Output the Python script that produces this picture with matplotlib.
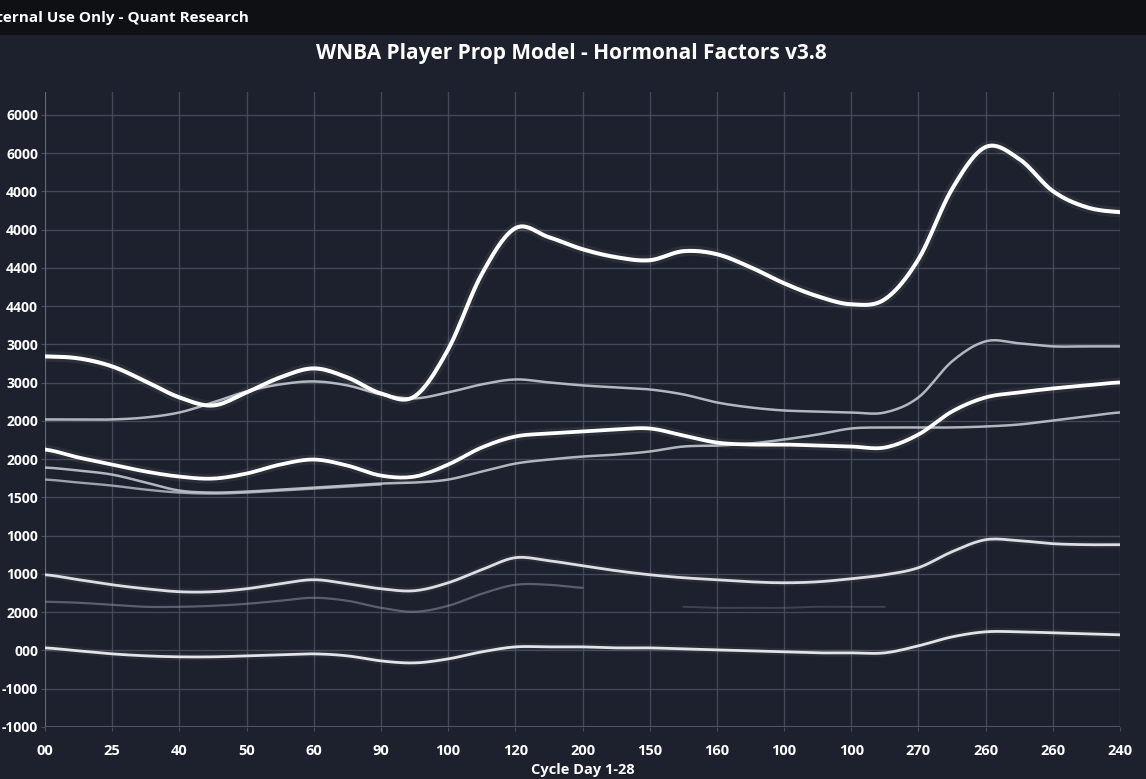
import numpy as np
import matplotlib
matplotlib.use("Agg")
import matplotlib.pyplot as plt
from matplotlib.patches import Rectangle

# ---------------- data ----------------
x_labels = ['00', '25', '40', '50', '60', '90', '100', '120', '200', '150',
            '160', '100', '100', '270', '260', '260', '240']
y_ticks = [-1000, -500, 0, 500, 1000, 1500, 2000, 2500, 3000, 3500, 4000,
           4500, 5000, 5500, 6000, 6500, 7000]
y_labels = ['-1000', '-1000', '000', '2000', '1000', '1000', '1500', '2000',
            '2000', '3000', '3000', '4400', '4400', '4000', '4000', '6000', '6000']

# samples at every half cycle step (0, 0.5, ..., 16)
x_pos = np.arange(33) * 0.5

series_top = [3844, 3818, 3713, 3517, 3308, 3203, 3373, 3569, 3687, 3569, 3360,
              3321, 3936, 4918, 5520, 5402, 5245, 5141, 5101, 5219, 5180, 5010,
              4800, 4630, 4525, 4591, 5114, 6031, 6581, 6424, 6005, 5795, 5730]
series_upper_grey = [3020, 3020, 3020, 3046, 3111, 3242, 3386, 3478, 3517, 3465,
                     3347, 3295, 3373, 3478, 3543, 3504, 3465, 3439, 3412, 3347,
                     3242, 3177, 3137, 3124, 3111, 3111, 3308, 3779, 4041, 4015,
                     3975, 3975, 3975]
series_mid_white = [2627, 2522, 2430, 2339, 2273, 2247, 2313, 2430, 2496, 2417,
                    2286, 2273, 2430, 2653, 2797, 2836, 2862, 2889, 2902, 2810,
                    2718, 2692, 2692, 2679, 2666, 2653, 2823, 3124, 3308, 3373,
                    3425, 3465, 3504]
series_mid_grey = [2391, 2352, 2299, 2195, 2090, 2064, 2077, 2103, 2129, 2155,
                   2182, 2195, 2234, 2339, 2443, 2496, 2535, 2561, 2601, 2666,
                   2679, 2705, 2758, 2823, 2902, 2915, 2915, 2915, 2928, 2954,
                   3006, 3059, 3111]
series_mid_grey2 = [2234, 2195, 2155, 2103, 2064, 2051, 2064, 2090, 2116, 2142,
                    2169] + [np.nan] * 22
series_low_light = [990, 925, 859, 807, 768, 768, 807, 872, 925, 872, 807, 781,
                    885, 1056, 1213, 1173, 1108, 1043, 990, 951, 925, 898, 885,
                    898, 938, 990, 1082, 1291, 1448, 1435, 1396, 1383, 1383]
series_faint_a = [637, 624, 597, 571, 571, 584, 610, 650, 689, 650, 558, 506,
                  584, 741, 859, 859, 820] + [np.nan] * 16
series_faint_b = [np.nan] * 19 + [571, 558, 558, 558, 571, 571, 571] + [np.nan] * 7
series_bottom = [34, -5, -44, -70, -83, -83, -70, -57, -44, -70, -136, -162,
                 -110, -18, 47, 47, 47, 34, 34, 21, 8, -5, -18, -31, -31, -31,
                 61, 178, 244, 244, 231, 218, 205]

# ---------------- style ----------------
BG = '#1c212d'
BAR = '#0e1014'
GRID = '#474d5d'
FONT = ['Open Sans', 'DejaVu Sans']


def catmull(x, y, n=12):
    x = np.asarray(x, float)
    y = np.asarray(y, float)
    xs, ys = [], []
    for i in range(len(x) - 1):
        p0 = y[i - 1] if i > 0 else y[i]
        p1, p2 = y[i], y[i + 1]
        p3 = y[i + 2] if i + 2 < len(y) else y[i + 1]
        t = np.linspace(0, 1, n, endpoint=False)
        yy = 0.5 * ((2 * p1) + (-p0 + p2) * t + (2 * p0 - 5 * p1 + 4 * p2 - p3) * t ** 2
                    + (-p0 + 3 * p1 - 3 * p2 + p3) * t ** 3)
        xs.append(x[i] + (x[i + 1] - x[i]) * t)
        ys.append(yy)
    xs.append([x[-1]])
    ys.append([y[-1]])
    return np.concatenate(xs), np.concatenate(ys)


def draw(ax, y, color, lw, alpha=1.0, glow=False):
    y = np.asarray(y, float)
    ok = ~np.isnan(y)
    idx = np.where(ok)[0]
    if len(idx) == 0:
        return
    runs = np.split(idx, np.where(np.diff(idx) != 1)[0] + 1)
    for r in runs:
        if len(r) < 2:
            continue
        sx, sy = catmull(x_pos[r], y[r])
        if glow:
            ax.plot(sx, sy, color=color, lw=lw * 2.6, alpha=0.06 * alpha,
                    solid_capstyle='round', zorder=3)
        ax.plot(sx, sy, color=color, lw=lw, alpha=alpha,
                solid_capstyle='round', zorder=4)


fig = plt.figure(figsize=(11.46, 7.79), dpi=100, facecolor=BG)
W, H = 1146, 779

# top bar
fig.patches.append(Rectangle((0, 1 - 35 / H), 1, 35 / H, transform=fig.transFigure,
                             facecolor=BAR, edgecolor='none', zorder=0))
fig.text(-19 / W, 1 - 18 / H, 'Internal Use Only - Quant Research', color='white',
         fontsize=11, fontweight='bold', family=FONT, va='center', ha='left')
fig.text(571 / W, 1 - 53 / H, 'WNBA Player Prop Model - Hormonal Factors v3.8',
         color='white', fontsize=15, fontweight='bold', family=FONT,
         va='center', ha='center')

ax = fig.add_axes([45 / W, 1 - 727 / H, (1120 - 45) / W, (727 - 92) / H])
ax.set_facecolor(BG)
ax.set_xlim(0, 16)
ax.set_ylim(-1000, 7300)

ax.set_xticks(range(17))
ax.set_xticklabels(x_labels)
ax.set_yticks(y_ticks)
ax.set_yticklabels(y_labels)
for lab in ax.get_xticklabels() + ax.get_yticklabels():
    lab.set_family(FONT)
    lab.set_fontweight('bold')
    lab.set_fontsize(10.5)
    lab.set_color('white')
for lab in ax.get_yticklabels():
    lab.set_fontsize(10)
ax.tick_params(axis='both', length=3, color=GRID)
ax.tick_params(axis='y', pad=2)
ax.tick_params(axis='x', pad=9)

ax.grid(True, color=GRID, lw=1.0, alpha=0.9, zorder=1)
for s in ax.spines.values():
    s.set_visible(False)
ax.axvline(0, color='#6a7080', lw=1.2, zorder=2)
ax.axhline(-1000, color='#5a6070', lw=1.2, zorder=2)

ax.set_xlabel('Cycle Day 1-28', color='white', fontsize=10.5, fontweight='bold',
              family=FONT, labelpad=4)

draw(ax, series_faint_a, '#8c93a3', 1.6, alpha=0.55)
draw(ax, series_faint_b, '#8c93a3', 1.4, alpha=0.3)
draw(ax, series_mid_grey2, '#b4b8c2', 1.7, alpha=0.85)
draw(ax, series_mid_grey, '#c2c6ce', 1.8, alpha=0.9)
draw(ax, series_upper_grey, '#c4c7cf', 1.8, alpha=0.9)
draw(ax, series_bottom, '#e2e4e8', 2.0, glow=True)
draw(ax, series_low_light, '#dcdee3', 2.0, glow=True)
draw(ax, series_mid_white, '#ffffff', 2.7, glow=True)
draw(ax, series_top, '#ffffff', 2.9, glow=True)

fig.savefig('out.png', dpi=100, facecolor=BG)
